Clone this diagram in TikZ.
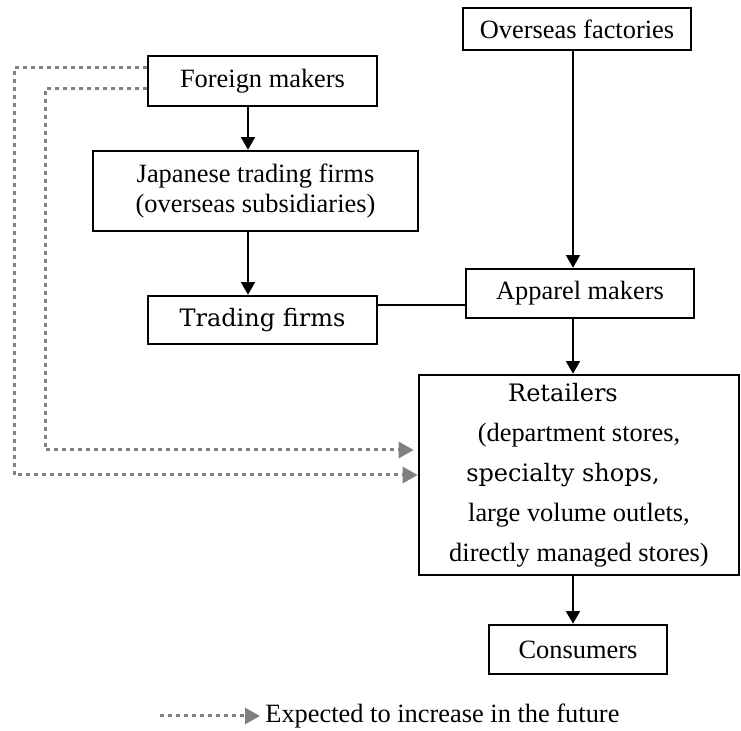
\documentclass[tikz,border=0pt]{standalone}
\usepackage{fontspec}
\setmainfont{Liberation Serif}
\newfontfamily\centuryfont{DejaVu Serif}
\usetikzlibrary{arrows.meta}

\tikzset{
	box/.style={draw, line width=1.3pt, inner sep=0pt, align=center},
	flow/.style={line width=0.9pt, -{Triangle[length=6.3pt,width=7pt]}},
	future/.style={draw=black!50, line width=1.5pt, dash pattern=on 1.8pt off 2.2pt,
		-{Triangle[length=7.5pt,width=8pt]}}
}

\begin{document}
\begin{tikzpicture}[x=0.5pt, y=-0.5pt, font=\fontsize{13.2}{15}\selectfont]
			%%%%% START %%%%%
			\useasboundingbox (0, 0) rectangle (741, 731);
			
			\node[box, minimum width=114pt, minimum height=21pt] (ovf) at (577, 29) {Overseas factories};
			\node[box, minimum width=114.5pt, minimum height=25pt] (fm) at (262.5, 81) {Foreign makers};
			\node[box, minimum width=162.5pt, minimum height=40pt] (jtf) at (255.5, 191) {Japanese trading firms\\(overseas subsidiaries)};
			\node[box, minimum width=114.5pt, minimum height=24pt, font=\centuryfont\fontsize{12}{15}\selectfont] (tf) at (262.5, 320) {Trading firms};
			\node[box, minimum width=114pt, minimum height=24.5pt] (apm) at (580, 293.5) {Apparel makers};
			\node[box, minimum width=160pt, minimum height=100pt, font=\fontsize{13.2}{20}\selectfont] (ret) at (579, 475)
				{{\centuryfont\fontsize{12}{20}\selectfont Retailers}\rule{16pt}{0pt}\\
				 (department stores,\\
				 {\centuryfont\fontsize{12}{20}\selectfont specialty shops,}\rule{16pt}{0pt}\\
				 large volume outlets,\\
				 directly managed stores)};
			\node[box, minimum width=89pt, minimum height=24.5pt] (con) at (578, 649.5) {Consumers};
			
			\coordinate (spine) at (573, 0);
			\coordinate (stem) at (248, 0);
			\coordinate (link) at (0, 305);
			\draw[flow] (ovf.south -| spine) -- (apm.north -| spine);
			\draw[flow] (apm.south -| spine) -- (ret.north -| spine);
			\draw[flow] (ret.south -| spine) -- (con.north -| spine);
			\draw[flow] (fm.south -| stem) -- (jtf.north -| stem);
			\draw[flow] (jtf.south -| stem) -- (tf.north -| stem);
			\draw[line width=0.9pt] (tf.east |- link) -- (apm.west |- link);
			
			% dotted routes round the left side
			\coordinate (outer) at (14, 0);
			\coordinate (inner) at (45, 0);
			\coordinate (upper) at ([xshift=-2pt, yshift=12.5pt]ret.west);
			\draw[future] ([yshift=6.5pt]fm.west) -| (outer |- ret.west) -- (ret.west);
			\draw[future] ([yshift=-4pt]fm.west) -| (inner |- upper) -- (upper);
			
			% key
			\coordinate (keystart) at (160, 716);
			\node[anchor=west, inner sep=2.5pt] (key) at (260, 716) {Expected to increase in the future};
			\draw[future] (keystart) -- (key.west);
			%%%%% END %%%%%
\end{tikzpicture}
\end{document}
